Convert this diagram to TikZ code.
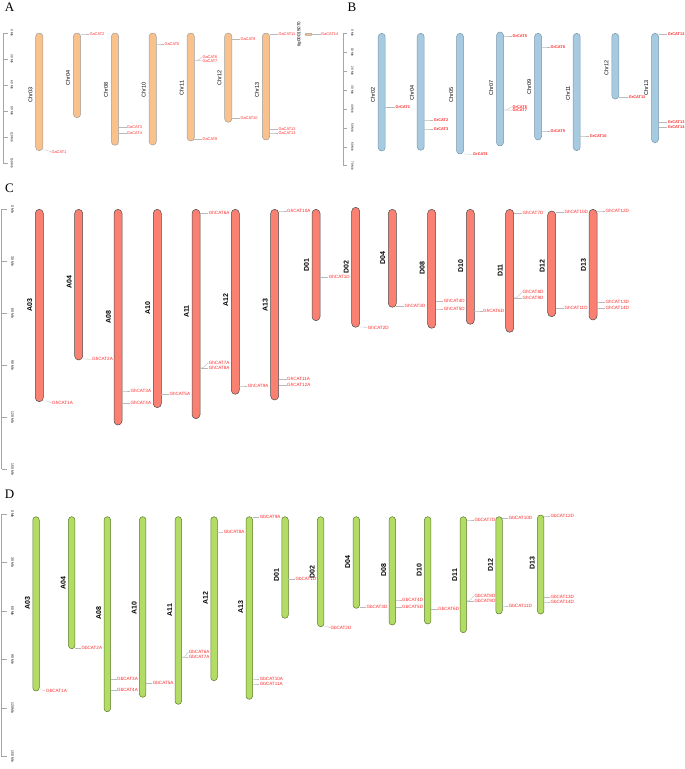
\documentclass[tikz,border=0pt]{standalone}
\usepackage{fontspec}
\setmainfont{Liberation Serif}
\setsansfont{Liberation Sans}
\definecolor{chrorange}{RGB}{249,193,139}
\definecolor{chrblue}{RGB}{166,203,224}
\definecolor{chrblueline}{RGB}{120,150,172}
\definecolor{chrsalmon}{RGB}{250,128,114}
\definecolor{chrgreen}{RGB}{178,220,100}
\definecolor{chrgreenline}{RGB}{92,122,44}
\definecolor{genered}{RGB}{255,40,40}

\begin{document}
\begin{tikzpicture}[x=1pt,y=-1pt,
  panel/.style={font=\fontsize{13}{13}\selectfont},
  ruler/.style={draw=gray!70,line width=.5pt},
  tickmb/.style={rotate=-90,font=\sffamily\fontsize{3}{3}\selectfont,inner sep=0pt},
  chrA/.style={fill=chrorange,draw=gray!75,line width=.5pt,rounded corners=3.6pt},
  chrB/.style={fill=chrblue,draw=chrblueline,line width=.5pt,rounded corners=3.5pt},
  chrC/.style={fill=chrsalmon,draw=black!70,line width=.5pt,rounded corners=4pt},
  chrD/.style={fill=chrgreen,draw=chrgreenline,line width=.5pt,rounded corners=3.2pt},
  chrname/.style={rotate=90,font=\sffamily\fontsize{5.5}{5.5}\selectfont,inner sep=0pt},
  chrbold/.style={rotate=90,font=\sffamily\bfseries\fontsize{7}{7}\selectfont,inner sep=0pt},
  gene/.style={anchor=west,text=genered,inner sep=.3pt,font=\sffamily\fontsize{3.9}{4}\selectfont},
  genebig/.style={gene,font=\sffamily\fontsize{4.6}{5}\selectfont},
  link/.style={draw=gray!55,line width=.35pt}
]
\useasboundingbox (0,0) rectangle (685,769);

% ---------- A
\node[panel] (labA) at (9.5,7.5) {A};
\draw[ruler] (3,33) -- (3,163);
\foreach \v [count=\i from 0] in {0,30,60,90,120,150} {
  \draw[ruler] (3,33+26*\i) -- ++(5,0);
  \node[tickmb] (rA\i) at (12,33+26*\i) {\v\ Mb};
}
\foreach \nm/\x/\t/\b/\ly in {Chr03/39.3/33/150.7/95, Chr04/77/33/117.7/78,
    Chr08/115/33/145.3/90, Chr10/152.7/33/145/90, Chr11/190.7/33/141/88,
    Chr12/228.3/33/122.3/78, Chr13/266/33/140/90} {
  \draw[chrA] (\x-3.65,\t) rectangle (\x+3.65,\b);
  \node[chrname] (nA\nm) at (\x-9,\ly) {\nm};
}
\draw[chrA,rounded corners=.8pt] (305,33.3) rectangle (312,35.3);
\node[chrname,font=\sffamily\fontsize{4.5}{4.5}\selectfont] (nAtig) at (299.3,34.3) {tig00015070};
\foreach \g/\x/\y/\lx/\ly in {GaCAT1/39.3/150/51/151.7, GaCAT2/77/34/89/34,
    GaCAT3/115/126.7/126.7/126.7, GaCAT4/115/132.7/126.7/132.7,
    GaCAT5/152.7/44/164/44, GaCAT6/190.7/60.3/202/57.3, GaCAT7/190.7/60.3/202/61,
    GaCAT8/190.7/139.3/202/139.3, GaCAT9/228.3/39.3/240/39.3,
    GaCAT10/228.3/118.3/240/118.3, GaCAT11/266/34.3/278/34.3,
    GaCAT12/266/128.7/278/128.7, GaCAT13/266/133/278/133, GaCAT14/308.5/34.3/320.7/34.3} {
  \coordinate (p\g) at (\x+3.65,\y);
  \node[gene] (\g) at (\lx,\ly) {\g};
  \draw[link] (p\g) -- ++(3,0) -- (\g.west);
}

% ---------- B
\node[panel] (labB) at (352,7.5) {B};
\draw[ruler] (343.3,33.3) -- (343.3,165.7);
\foreach \v [count=\i from 0] in {0,10,20,30,40,50,60,70} {
  \draw[ruler] (343.3,33.3+18.91*\i) -- ++(4,0);
  \node[tickmb] (rB\i) at (352.5,33.3+18.91*\i) {\v\ Mb};
}
\foreach \nm/\x/\t/\b/\ly in {Chr02/381.7/33.3/151/95, Chr04/420.7/33.3/150.3/93.3,
    Chr05/460/33.3/154/95, Chr07/500/32/146/88, Chr09/538/33.3/140/86.7,
    Chr11/576.7/33.3/150.7/93.3, Chr12/615.3/33.3/99/68.3, Chr13/655/33.3/142.7/88.3} {
  \draw[chrB] (\x-3.5,\t) rectangle (\x+3.5,\b);
  \node[chrname] (nB\nm) at (\x-8.8,\ly) {\nm};
}
\foreach \g/\x/\y/\lx/\ly in {GrCAT1/381.7/106.7/395/106.7, GrCAT2/420.7/120/433.3/120,
    GrCAT3/420.7/129/433.3/129, GrCAT4/460/154/472.7/154.3, GrCAT5/500/36/512/36,
    GrCAT6/500/110/512/106.7, GrCAT7/500/110/512/110.3, GrCAT8/538/47/550/47,
    GrCAT9/538/131/550/131, GrCAT10/576.7/136/589.3/136, GrCAT11/615.3/97.3/628.3/97.3,
    GrCAT12/655/34.3/667.3/34.3, GrCAT13/655/121.7/667.3/121.7,
    GrCAT14/655/127.3/667.3/127.3} {
  \coordinate (p\g) at (\x+3.5,\y);
  \node[gene,font=\sffamily\bfseries\fontsize{3.9}{4}\selectfont] (\g) at (\lx,\ly) {\g};
  \draw[link] (p\g) -- ++(3,0) -- (\g.west);
}

% ---------- C
\node[panel] (labC) at (9.5,188) {C};
\draw[ruler] (1.7,209.3) -- (1.7,469.3);
\foreach \v [count=\i from 0] in {0,30,60,90,120,150} {
  \draw[ruler] (1.7,209.3+52*\i) -- ++(5.6,0);
  \node[tickmb,font=\sffamily\fontsize{3.4}{3.4}\selectfont] (rC\i) at (12.7,209.3+52*\i) {\v\ Mb};
}
\foreach \nm/\x/\t/\b/\ly in {A03/39.3/209.3/401.7/305, A04/78.7/209.3/360/281.7,
    A08/118/209.3/425/316.7, A10/157.3/209.3/407.7/308.3, A11/196/209.3/418.7/311.7,
    A12/235.3/209.3/394.3/300, A13/274.7/209.3/400/305, D01/316/209.3/320.7/265,
    D02/355.7/207.3/327.3/267.3, D04/392.3/209.3/307.3/258.3, D08/431.7/209.3/328.3/268.3,
    D10/470.3/209.3/324.3/265.7, D11/509.7/209.3/332.3/270.7, D12/551.7/211/316.7/266,
    D13/593/209.3/320/265} {
  \draw[chrC] (\x-4,\t) rectangle (\x+4,\b);
  \node[chrbold] (nC\nm) at (\x-9.5,\ly) {\nm};
}
\foreach \g/\x/\y/\lx/\ly in {GhCAT1A/39.3/401/51.7/402.7, GhCAT2A/78.7/359/91.7/359.3,
    GhCAT3A/118/391/130/391, GhCAT4A/118/403.3/130/403.3, GhCAT5A/157.3/394.3/169/394.3,
    GhCAT6A/196/213.3/208.3/213.3, GhCAT7A/196/367.7/208.3/362.7,
    GhCAT8A/196/367.7/208.3/367.7, GhCAT9A/235.3/386/247.3/386,
    GhCAT10A/274.7/211/286.7/211, GhCAT11A/274.7/379.3/286.7/379.3,
    GhCAT12A/274.7/384.7/286.7/384.7, GhCAT1D/316/276.7/328.3/276.7,
    GhCAT2D/355.7/327/367.3/327.7, GhCAT3D/392.3/305.7/404/305.7,
    GhCAT4D/431.7/300.7/443.3/300.7, GhCAT5D/431.7/309/443.3/309,
    GhCAT6D/470.3/311/482.7/311, GhCAT7D/509.7/213.3/522/213.3,
    GhCAT8D/509.7/297.7/522/292.3, GhCAT9D/509.7/297.7/522/297.7,
    GhCAT10D/551.7/212.3/564/212.3, GhCAT11D/551.7/307.7/564/307.7,
    GhCAT12D/593/211/605/211, GhCAT13D/593/301.7/605/301.7, GhCAT14D/593/307.7/605/307.7} {
  \coordinate (p\g) at (\x+4,\y);
  \node[genebig] (\g) at (\lx,\ly) {\g};
  \draw[link] (p\g) -- ++(3,0) -- (\g.west);
}

% ---------- D
\node[panel] (labD) at (9.5,494) {D};
\draw[ruler] (1.7,514) -- (1.7,756.5);
\foreach \v [count=\i from 0] in {0,30,60,90,120,150} {
  \draw[ruler] (1.7,514+48.5*\i) -- ++(5.6,0);
  \node[tickmb,font=\sffamily\fontsize{3.4}{3.4}\selectfont] (rD\i) at (12.7,514+48.5*\i) {\v\ Mb};
}
\foreach \nm/\x/\t/\b/\ly in {A03/36/516.7/691/603.3, A04/71.7/516.7/648.7/583.3,
    A08/107.3/516.7/711.7/613.3, A10/142.7/516.7/697.3/608.3, A11/178.3/516.7/704.3/610,
    A12/214/516.7/680.7/598.3, A13/249.3/516.7/699.3/607.3, D01/285/516.7/618.3/575,
    D02/320.7/516.7/626.7/571.7, D04/356.3/516.7/608.3/561.7, D08/392.3/516.7/625/570,
    D10/427.7/516.7/624/570, D11/463.3/516.7/632.7/575, D12/499/516.7/614/565,
    D13/540.7/515/614/563.3} {
  \draw[chrD] (\x-3.25,\t) rectangle (\x+3.25,\b);
  \node[chrbold] (nD\nm) at (\x-8.6,\ly) {\nm};
}
\foreach \g/\x/\y/\lx/\ly in {GbCAT1A/36/690/45.7/691, GbCAT2A/71.7/647.7/81/647.7,
    GbCAT3A/107.3/679.3/116.7/679.3, GbCAT4A/107.3/690.3/116.7/690.3,
    GbCAT5A/142.7/682.7/152.3/682.7, GbCAT6A/178.3/657/188.3/652,
    GbCAT7A/178.3/657/188.3/657, GbCAT8A/214/532/223.3/532,
    GbCAT9A/249.3/517.3/259.3/517.3, GbCAT10A/249.3/679/259.3/679,
    GbCAT11A/249.3/684/259.3/684, GbCAT1D/285/578.7/295/578.7,
    GbCAT2D/320.7/626.5/330/627.7, GbCAT3D/356.3/607.3/366/607.3,
    GbCAT4D/392.3/600/401.7/600, GbCAT5D/392.3/607.3/401.7/607.3,
    GbCAT6D/427.7/609.3/437.7/609.3, GbCAT7D/463.3/520/474/520,
    GbCAT8D/463.3/600.7/474/595.7, GbCAT9D/463.3/600.7/474/600.7,
    GbCAT10D/499/517.7/508.3/517.7, GbCAT11D/499/606/508.3/606,
    GbCAT12D/540.7/516/550/516, GbCAT13D/540.7/596.7/550/596.7,
    GbCAT14D/540.7/602/550/602} {
  \coordinate (p\g) at (\x+3.25,\y);
  \node[genebig] (\g) at (\lx,\ly) {\g};
  \draw[link] (p\g) -- ++(3,0) -- (\g.west);
}
\end{tikzpicture}
\end{document}
